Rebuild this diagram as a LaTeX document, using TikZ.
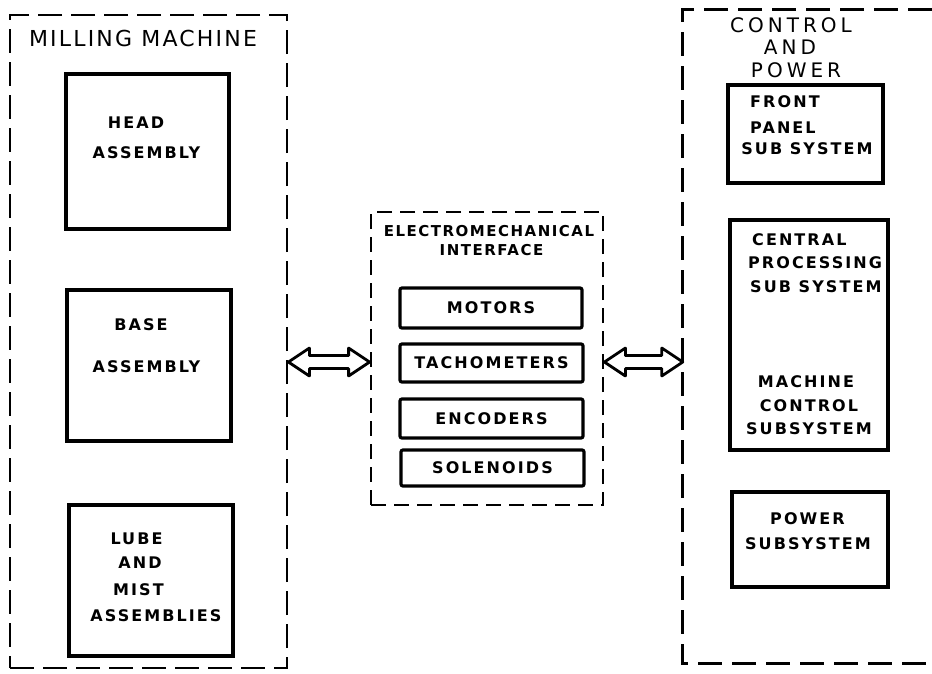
\documentclass[tikz,border=0pt]{standalone}
\usepackage{fontspec}
\usetikzlibrary{calc}
\newfontfamily\titlefont[LetterSpace=10]{DejaVu Sans}
\newfontfamily\ctitlefont[LetterSpace=20]{DejaVu Sans}
\newfontfamily\boxfont[LetterSpace=13]{DejaVu Sans}
\newfontfamily\emifont[LetterSpace=10]{DejaVu Sans}
\newcommand\dblarrow[2]{%
  \draw[arrowline] (#1) -- ++(21,14) -- ++(0,-7.5) -- ($(#2)+(-21,6.5)$) -- ++(0,7.5)
    -- (#2) -- ++(-21,-14) -- ++(0,7.5) -- ($(#1)+(21,-6.5)$) -- ++(0,-7.5) -- cycle;}
\tikzset{
  outerbox/.style={draw, line width=2.8pt, dash pattern=on 24pt off 9pt, inner sep=0pt},
  emibox/.style={draw, line width=2.8pt, dash pattern=on 15pt off 8pt, inner sep=0pt},
  subbox/.style={draw, line width=3.2pt, inner sep=0pt},
  smallbox/.style={draw, line width=3.2pt, rounded corners=2pt, inner sep=0pt,
    font=\boxfont\bfseries\fontsize{16}{19}\selectfont},
  ttl/.style={font=\titlefont\fontsize{22}{26}\selectfont, inner sep=0pt},
  cttl/.style={font=\ctitlefont\fontsize{20}{24}\selectfont, inner sep=0pt},
  lbl/.style={font=\boxfont\bfseries\fontsize{16}{19}\selectfont, inner sep=0pt},
  emittl/.style={font=\emifont\bfseries\fontsize{15}{18}\selectfont, inner sep=0pt},
  arrowline/.style={line width=2.8pt, line join=round},
}
\begin{document}
\begin{tikzpicture}[x=1pt,y=-1pt]
\useasboundingbox (0,0) rectangle (932,673);
% Milling machine
\node[outerbox, minimum width=277pt, minimum height=653pt] (mill) at (148.5,341.5) {};
\node[ttl] (millt) at (143,38) {MILLING MACHINE};
\node[subbox, minimum width=163pt, minimum height=155pt] (head) at (147.5,151.5) {};
\node[lbl] (head1) at (136,123) {HEAD};
\node[lbl] (head2) at (146.5,153) {ASSEMBLY};
\node[subbox, minimum width=164pt, minimum height=151pt] (base) at (149,365.5) {};
\node[lbl] (base1) at (141,325) {BASE};
\node[lbl] (base2) at (146.5,367) {ASSEMBLY};
\node[subbox, minimum width=164pt, minimum height=151pt] (lube) at (151,580.5) {};
\node[lbl] (lube1) at (136.5,539) {LUBE};
\node[lbl] (lube2) at (140,563) {AND};
\node[lbl] (lube3) at (138.5,590) {MIST};
\node[lbl] (lube4) at (156,616) {ASSEMBLIES};
% Electromechanical interface
\node[emibox, minimum width=232pt, minimum height=293pt] (emi) at (487,358.5) {};
\node[emittl] (emit1) at (489,231) {ELECTROMECHANICAL};
\node[emittl] (emit2) at (491.5,250) {INTERFACE};
\node[smallbox, minimum width=182pt, minimum height=40pt] (motors) at (491,308) {MOTORS};
\node[smallbox, minimum width=183pt, minimum height=38pt] (tach) at (491.5,363) {TACHOMETERS};
\node[smallbox, minimum width=183pt, minimum height=39pt] (enc) at (491.5,418.5) {ENCODERS};
\node[smallbox, minimum width=183pt, minimum height=36pt] (sol) at (492.5,468) {SOLENOIDS};
% Control and power
\node[minimum width=249pt, minimum height=653pt, inner sep=0pt] (cp) at (807.5,336.5) {};
\draw[outerbox, dash pattern=on 24pt off 10pt] (cp.north east) -- (cp.north west) -- (cp.south west) -- (cp.south east);
\node[cttl] (cpt1) at (791,25) {CONTROL};
\node[cttl] (cpt2) at (790,47) {AND};
\node[cttl] (cpt3) at (796,70) {POWER};
\node[subbox, minimum width=155pt, minimum height=98pt] (front) at (805.5,134) {};
\node[lbl, anchor=west] (front1) at (750,102) {FRONT};
\node[lbl, anchor=west] (front2) at (750,128) {PANEL};
\node[lbl] (front3) at (807,149) {SUB SYSTEM};
\node[subbox, minimum width=158pt, minimum height=230pt] (cpu) at (809,335) {};
\node[lbl, anchor=west] (cpu1) at (752,240) {CENTRAL};
\node[lbl, anchor=west] (cpu2) at (748,263) {PROCESSING};
\node[lbl, anchor=west] (cpu3) at (750,287) {SUB SYSTEM};
\node[lbl] (mc1) at (806,382) {MACHINE};
\node[lbl] (mc2) at (809,406) {CONTROL};
\node[lbl] (mc3) at (809,429) {SUBSYSTEM};
\node[subbox, minimum width=156pt, minimum height=95pt] (power) at (810,539.5) {};
\node[lbl] (pw1) at (807.5,519) {POWER};
\node[lbl] (pw2) at (808,544) {SUBSYSTEM};
% Connectors
\coordinate (ay) at (0,362);
\coordinate (a1) at (mill.east |- ay);
\coordinate (a2) at (emi.west |- ay);
\coordinate (a3) at (emi.east |- ay);
\coordinate (a4) at (cp.west |- ay);
\dblarrow{a1}{a2}
\dblarrow{a3}{a4}
\end{tikzpicture}
\end{document}
